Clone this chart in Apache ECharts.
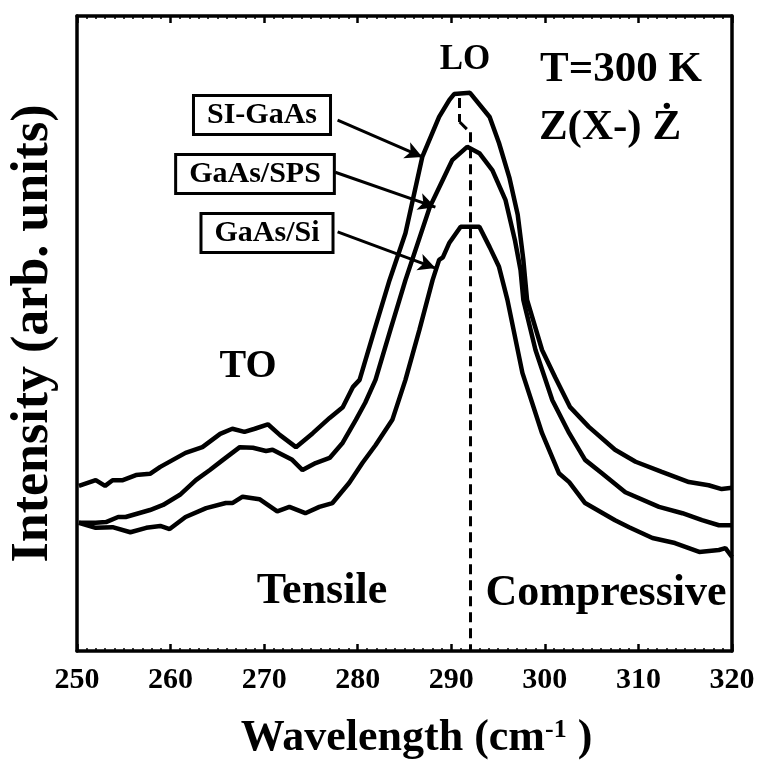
<!DOCTYPE html>
<html>
<head>
<meta charset="utf-8">
<script src="https://cdn.jsdelivr.net/npm/echarts@6/dist/echarts.min.js"></script>
<style>html,body{margin:0;padding:0;background:#fff;}#c{width:759px;height:769px;}</style>
</head>
<body>
<div id="c"></div>
<script>
// Wavenumber (cm-1) and intensity (arb. units)
const siX  = [250.2,252.0,253.0,253.8,254.9,256.3,257.8,258.9,261.6,263.4,265.3,266.6,267.9,269.0,270.4,271.7,273.4,275.2,277.0,278.4,279.5,280.2,281.8,283.4,285.1,286.9,288.7,289.8,290.3,292.0,294.1,295.1,296.2,297.1,297.7,298.1,299.7,301.1,302.7,304.7,307.5,309.7,312.5,315.4,317.5,318.9,320.0];
const siY  = [26.0,26.9,26.0,26.9,26.9,27.7,27.9,29.0,31.2,32.1,34.2,35.0,34.5,35.0,35.7,34.0,32.1,34.3,36.7,38.4,41.6,42.7,50.6,58.4,65.8,77.8,84.1,86.8,87.7,87.9,84.1,80.0,74.6,68.7,61.6,55.3,47.4,43.1,38.4,35.3,31.7,29.8,28.2,26.6,26.1,25.5,25.7];
const spsX = [250.2,252.0,253.1,254.4,255.2,257.8,259.2,261.0,262.7,264.2,265.6,267.4,268.8,270.2,270.9,273.0,274.1,275.5,277.0,278.4,279.8,280.8,281.9,283.5,285.1,287.7,289.1,290.1,291.7,293.0,294.4,295.8,296.8,297.4,297.7,299.0,300.8,302.6,304.3,306.1,308.6,312.2,314.7,316.8,318.6,320.0];
const spsY = [20.2,20.2,20.3,21.1,21.1,22.2,23.0,24.6,26.9,28.5,30.1,32.1,32.0,31.5,31.7,30.1,28.5,29.6,30.4,32.8,36.4,39.1,42.7,50.6,58.4,69.9,74.2,77.3,79.4,78.4,75.7,71.0,64.7,60.0,55.3,47.4,39.5,34.3,30.1,28.0,25.0,22.7,21.7,20.6,19.8,19.8];
const gsX  = [250.2,252.0,253.8,255.7,257.4,258.9,259.9,261.6,263.8,265.9,266.6,267.7,269.5,271.4,272.7,274.4,275.9,277.3,279.1,280.5,281.9,283.7,285.1,286.6,288.0,288.7,289.1,289.8,291.0,293.0,294.1,295.1,296.0,297.6,299.7,301.5,302.6,304.3,307.5,309.0,311.5,313.9,316.5,318.6,319.3,320.0];
const gsY  = [20.2,19.4,19.5,18.7,19.4,19.7,19.2,21.1,22.5,23.3,23.3,24.3,23.9,22.0,22.7,21.7,22.7,23.3,26.5,29.6,32.4,36.4,42.7,50.6,58.4,61.6,62.0,64.3,66.8,66.8,63.6,60.5,55.3,43.8,34.3,28.0,26.6,23.3,20.6,19.5,17.8,17.0,15.6,15.9,16.2,14.8];
const xTicks = [250,260,270,280,290,300,310,320];
const seriesNames = ['SI-GaAs','GaAs/SPS','GaAs/Si'];

const FONT = 'Liberation Serif';
function pairs(xs, ys){ return xs.map((x,i)=>[x, ys[i]]); }

const chart = echarts.init(document.getElementById('c'), null, {renderer:'canvas'});
const black = '#000';
const lineStyle = {color: black, width: 4.5};

const xCommon = {
  type:'value', min: xTicks[0], max: xTicks[xTicks.length-1], interval: 10,
  splitLine:{show:false},
  axisLine:{show:true, onZero:false, lineStyle:{color:black, width:3.5}},
  axisTick:{show:true, inside:true, length:7, lineStyle:{color:black, width:2.5}},
  minorTick:{show:true, splitNumber:10, length:3, lineStyle:{color:black, width:1.5}}
};

const option = {
  animation:false,
  backgroundColor:'#fff',
  grid:{left:75, right:27, top:16, bottom:118},
  xAxis:[
    Object.assign({}, xCommon, {
      position:'bottom',
      axisLabel:{show:true, fontFamily:FONT, fontWeight:'bold', fontSize:30, color:black, margin:14},
      name:'Wavelength (cm{sup|-1} )',
      nameLocation:'middle', nameGap:66,
      nameTextStyle:{fontFamily:FONT, fontWeight:'bold', fontSize:44, color:black, padding:[0,0,0,24],
        rich:{sup:{fontFamily:FONT, fontWeight:'bold', fontSize:26, color:black, verticalAlign:'top', padding:[0,0,14,0]}}}
    }),
    Object.assign({}, xCommon, {position:'top', axisLabel:{show:false}})
  ],
  yAxis:[
    {type:'value', min:0, max:100, position:'left',
     splitLine:{show:false}, axisTick:{show:false}, axisLabel:{show:false},
     axisLine:{show:true, onZero:false, lineStyle:{color:black, width:3.5}},
     name:'Intensity (arb. units)', nameLocation:'middle', nameRotate:90, nameGap:17,
     nameTextStyle:{fontFamily:FONT, fontWeight:'bold', fontSize:52, color:black}},
    {type:'value', min:0, max:100, position:'right',
     splitLine:{show:false}, axisTick:{show:false}, axisLabel:{show:false},
     axisLine:{show:true, onZero:false, lineStyle:{color:black, width:3.5}}}
  ],
  series:[
    {name:seriesNames[0], type:'line', data:pairs(siX, siY), showSymbol:false, symbol:'none', lineStyle:lineStyle, z:3,
     markLine:{silent:true, symbol:['none','none'], label:{show:false},
       lineStyle:{color:black, width:3, type:[10,6]},
       data:[
         [{coord:[290.9,87.1]},{coord:[290.9,83.3]}],
         [{coord:[290.9,83.3]},{coord:[292.0,81.7]}],
         [{coord:[292.0,81.7]},{coord:[292.0,0]}]
       ]}},
    {name:seriesNames[1], type:'line', data:pairs(spsX, spsY), showSymbol:false, symbol:'none', lineStyle:lineStyle, z:3,
     markLine:{silent:true, symbol:['none','arrow'], symbolSize:[13,17], label:{show:false},
       lineStyle:{color:black, width:3, type:'solid'},
       data:[
         [{coord:[277.85,83.6]},{coord:[286.9,77.8]}],
         [{coord:[277.6,75.4]},{coord:[288.3,69.9]}],
         [{coord:[277.85,66.0]},{coord:[288.3,60.3]}]
       ]}},
    {name:seriesNames[2], type:'line', data:pairs(gsX, gsY), showSymbol:false, symbol:'none', lineStyle:lineStyle, z:3}
  ],
  graphic:[
    {type:'text', x:465, y:60, style:{text:'LO', fontFamily:FONT, fontWeight:'bold', fontSize:35, fill:black, textAlign:'center', textVerticalAlign:'middle'}},
    {type:'text', x:621, y:70, style:{text:'T=300 K', fontFamily:FONT, fontWeight:'bold', fontSize:43, fill:black, textAlign:'center', textVerticalAlign:'middle'}},
    {type:'text', x:610, y:128, style:{text:'Z(X-) Ż', fontFamily:FONT, fontWeight:'bold', fontSize:43, fill:black, textAlign:'center', textVerticalAlign:'middle'}},
    {type:'text', x:248, y:367, style:{text:'TO', fontFamily:FONT, fontWeight:'bold', fontSize:40, fill:black, textAlign:'center', textVerticalAlign:'middle'}},
    {type:'text', x:322, y:592, style:{text:'Tensile', fontFamily:FONT, fontWeight:'bold', fontSize:44, fill:black, textAlign:'center', textVerticalAlign:'middle'}},
    {type:'text', x:606, y:594, style:{text:'Compressive', fontFamily:FONT, fontWeight:'bold', fontSize:44, fill:black, textAlign:'center', textVerticalAlign:'middle'}},
    {type:'text', x:262, y:115, z:10, style:{text:seriesNames[0], fontFamily:FONT, fontWeight:'bold', fontSize:30, fill:black, textAlign:'center', textVerticalAlign:'middle', backgroundColor:'#fff', borderColor:black, borderWidth:3, padding:[3,12]}},
    {type:'text', x:255, y:174, z:10, style:{text:seriesNames[1], fontFamily:FONT, fontWeight:'bold', fontSize:30, fill:black, textAlign:'center', textVerticalAlign:'middle', backgroundColor:'#fff', borderColor:black, borderWidth:3, padding:[3,12]}},
    {type:'text', x:267, y:233, z:10, style:{text:seriesNames[2], fontFamily:FONT, fontWeight:'bold', fontSize:30, fill:black, textAlign:'center', textVerticalAlign:'middle', backgroundColor:'#fff', borderColor:black, borderWidth:3, padding:[3,12]}}
  ]
};
chart.setOption(option);
</script>
</body>
</html>
